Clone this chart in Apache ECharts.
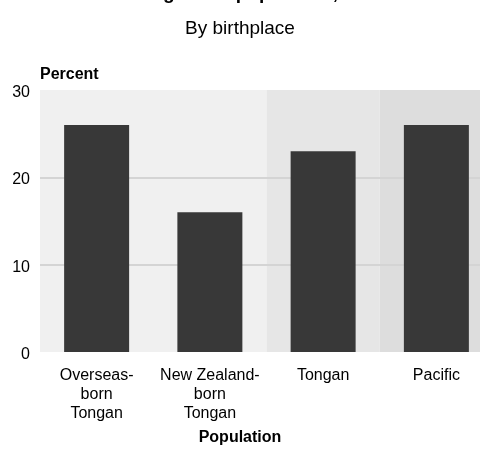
<!DOCTYPE html>
<html><head><meta charset="utf-8">
<script src="https://cdn.jsdelivr.net/npm/echarts@6/dist/echarts.min.js"></script>
<style>html,body{margin:0;padding:0;background:#fff}#c{width:480px;height:452px}</style>
</head><body><div id="c"></div>
<script>
const categories = ['Overseas-\nborn\nTongan', 'New Zealand-\nborn\nTongan', 'Tongan', 'Pacific'];
const values = [26, 16, 23, 26];
const yTicks = [0, 10, 20, 30];
const titleText = 'Smoking in the population, 2013';
const subtitleText = 'By birthplace';

const chart = echarts.init(document.getElementById('c'), null, {renderer: 'canvas'});
chart.setOption({
  animation: false,
  title: [
    {text: titleText, left: 'center', top: -21, textStyle: {fontFamily: 'Liberation Sans', fontWeight: 'bold', fontSize: 19, color: '#000'}},
    {text: subtitleText, left: 'center', top: 14, textStyle: {fontFamily: 'Liberation Sans', fontWeight: 'normal', fontSize: 19, color: '#000'}}
  ],
  grid: {left: 40, right: -13, top: 90, height: 262, containLabel: false, outerBoundsMode: 'none'},
  xAxis: {
    type: 'category', data: categories, z: 0,
    name: 'Population', nameLocation: 'middle', nameGap: 78,
    nameTextStyle: {fontFamily: 'Liberation Sans', fontWeight: 'bold', fontSize: 16, color: '#000', padding: [0, 0, 0, -53]},
    axisLine: {show: false}, axisTick: {show: false},
    axisLabel: {fontFamily: 'Liberation Sans', fontSize: 16, color: '#000', lineHeight: 19, margin: 14, interval: 0},
    splitArea: {show: true, areaStyle: {color: ['#f0f0f0', '#f0f0f0', '#e6e6e6', '#dddddd']}}
  },
  yAxis: {
    type: 'value', min: 0, max: 30, interval: 10, z: 1,
    name: 'Percent', nameLocation: 'end', nameGap: 7,
    nameTextStyle: {fontFamily: 'Liberation Sans', fontWeight: 'bold', fontSize: 16, color: '#000', align: 'left'},
    axisLine: {show: false}, axisTick: {show: false},
    axisLabel: {fontFamily: 'Liberation Sans', fontSize: 16, color: '#000', margin: 10,
      formatter: v => yTicks.includes(v) ? '{a|' + v + '}' : '',
      rich: {a: {fontFamily: 'Liberation Sans', fontSize: 16, color: '#000', padding: [5, 0, 0, 0]}}},
    splitLine: {show: true, showMinLine: false, showMaxLine: false, lineStyle: {color: '#d4d4d4', width: 2}}
  },
  series: [{
    type: 'bar', data: values, barWidth: 65, z: 2,
    itemStyle: {color: '#383838'}
  }]
});
</script></body></html>
